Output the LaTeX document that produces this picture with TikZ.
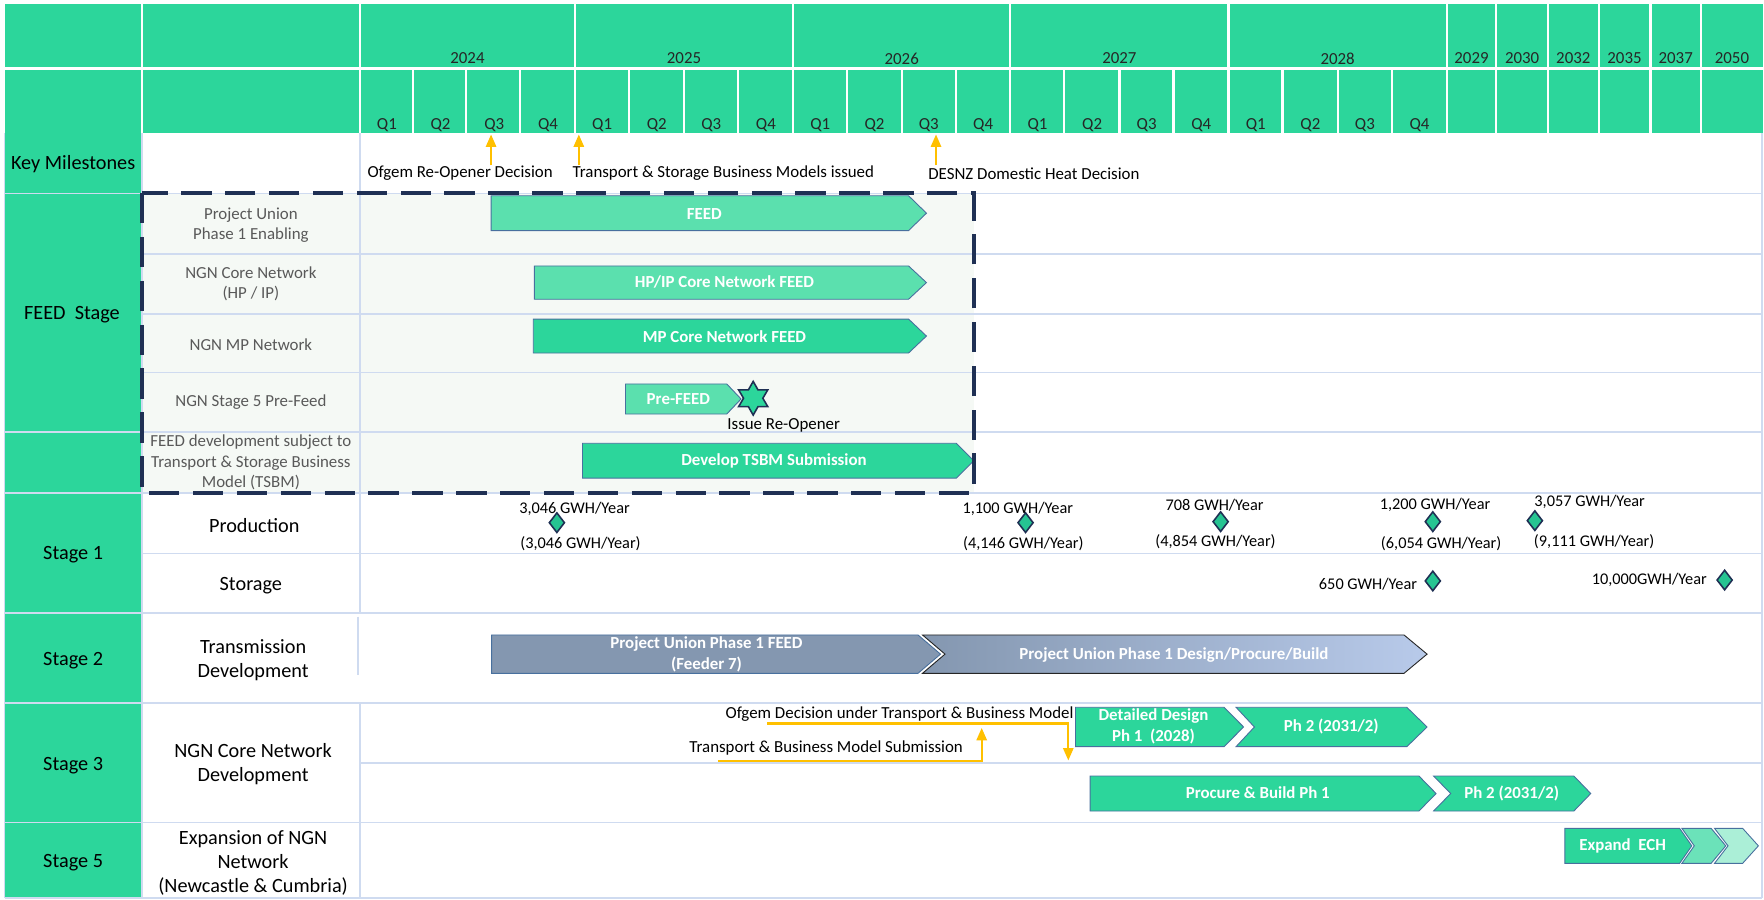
\documentclass[tikz,border=0pt]{standalone}
\usepackage{fontspec}
\setmainfont{Carlito}
\usepackage{tikz}
\usetikzlibrary{arrows.meta, shapes.geometric}
\usepackage{xcolor}
\definecolor{mint}{RGB}{44,214,155}
\definecolor{mintlight}{RGB}{91,224,174}
\definecolor{gemgreen}{RGB}{38,196,146}
\definecolor{gridblue}{RGB}{207,219,240}
\definecolor{feedbg}{RGB}{245,249,245}
\definecolor{navy}{RGB}{31,48,84}
\definecolor{amber}{RGB}{255,192,0}
\definecolor{slate}{RGB}{132,151,176}
\definecolor{slatelight}{RGB}{184,202,234}
\definecolor{greytext}{RGB}{89,89,89}
\definecolor{barline}{RGB}{72,112,158}

% timeline bar: style, left, body end, tip, top, bottom
\newcommand{\tlarrow}[6]{%
  \path[#1] (#2,#5) -- (#3,#5) -- (#4,{(#5+#6)/2}) -- (#3,#6) -- (#2,#6) -- cycle;}
% chevron bar: style, left, notch, body end, tip, top, bottom
\newcommand{\tlchevron}[7]{%
  \path[#1] (#2,#6) -- (#4,#6) -- (#5,{(#6+#7)/2}) -- (#4,#7) -- (#2,#7) -- (#3,{(#6+#7)/2}) -- cycle;}

\begin{document}
\begin{tikzpicture}[x=1pt, y=-1pt,
  hdr/.style={font=\fontsize{15}{18}\selectfont, text=black!85, inner sep=0pt},
  stagelbl/.style={font=\fontsize{18}{21.5}\selectfont, align=center, inner sep=0pt},
  feedlbl/.style={font=\fontsize{15}{18}\selectfont, text=greytext, align=center, inner sep=0pt},
  bartxt/.style={font=\fontsize{15}{18.5}\selectfont\bfseries, text=white, align=center, inner sep=0pt},
  note/.style={font=\fontsize{15}{18}\selectfont, inner sep=0pt},
  gwh/.style={font=\fontsize{14.5}{17}\selectfont, inner sep=0pt},
  gridline/.style={draw=gridblue, line width=1.5pt},
  lightbar/.style={fill=mintlight, draw=barline, line width=0.8pt},
  darkbar/.style={fill=mint, draw=barline, line width=0.8pt},
  gem/.style={diamond, draw=navy, fill=gemgreen, line width=1.4pt, inner sep=0pt,
    minimum width=14pt, minimum height=18pt},
  amberarrow/.style={draw=amber, line width=2pt, -{Triangle[width=9pt,length=11pt]}}]
  \fill[white] (0,0) rectangle (1568,800);
  \useasboundingbox (0,0) rectangle (1568,800);
  % header and stage column
  \fill[mint] (4,4) rectangle (1567,118.5);
  \fill[mint] (4,118.5) rectangle (126,798.5);
  \fill[feedbg] (126,172) rectangle (865.5,438);
  \draw[white, line width=2pt] (4,61) -- (1567,61);
  \foreach \x in {126,320,511,705,898,1092,1286,1330,1376,1421,1467,1512}
    \draw[white, line width=2pt] (\x,4) -- (\x,118.5);
  \foreach \x in {367,414,462,559,608,656,753,802,850,946,995,1043,1140,1189,1237}
    \draw[white, line width=2pt] (\x,61) -- (\x,118.5);
  \foreach \yr/\cx in {2024/415.5,2025/608,2026/801.5,2027/995,2028/1189,2029/1308,
      2030/1353,2032/1398.5,2035/1444,2037/1489.5,2050/1539.5}
    \node[hdr] (yr\yr) at (\cx,52) {\yr};
  \foreach \yx/\yw [count=\yi] in {320/191,511/194,705/193,898/194,1092/194}
    \foreach \q in {1,...,4}
      \node[hdr] (q\yi\q) at ({\yx+(\q-0.5)*\yw/4},111) {Q\q};
  % grid
  \draw[gridline] (4,118.5) -- (4,798.5) (1566,118.5) -- (1566,798.5) (126,118.5) -- (126,798.5);
  \draw[gridline] (320,118.5) -- (320,545) (320,625) -- (320,798.5) (318,548) -- (318,600);
  \foreach \y in {172,384,438,545,625,731,798.5}
    \draw[gridline] (4,\y) -- (1566,\y);
  \foreach \y in {226,279,331,492}
    \draw[gridline] (126,\y) -- (1566,\y);
  \draw[gridline] (320,678) -- (1566,678);
  % stage labels
  \node[stagelbl] (km) at (65,146) {Key Milestones};
  \node[stagelbl] (feedstage) at (64,280) {FEED~ Stage};
  \node[stagelbl] (stage1) at (65,493) {Stage 1};
  \node[stagelbl] (stage2) at (65,587) {Stage 2};
  \node[stagelbl] (stage3) at (65,681) {Stage 3};
  \node[stagelbl] (stage5) at (65,767) {Stage 5};
  \node[feedlbl] (pu) at (223,200) {Project Union\\Phase 1 Enabling};
  \node[feedlbl] (hpip) at (223,252) {NGN Core Network\\(HP / IP)};
  \node[feedlbl] (mp) at (223,306) {NGN MP Network};
  \node[feedlbl] (s5pre) at (223,357.5) {NGN Stage 5 Pre-Feed};
  \node[feedlbl] (tsbm) at (223,411) {FEED development subject to\\Transport \& Storage Business\\Model (TSBM)};
  \node[stagelbl] (prod) at (226,467) {Production};
  \node[stagelbl] (stor) at (223,521) {Storage};
  \node[stagelbl] (trans) at (225,587) {Transmission\\Development};
  \node[stagelbl] (core) at (225,679) {NGN Core Network\\Development};
  \node[stagelbl] (expn) at (225,767) {Expansion of NGN\\Network\\(Newcastle \& Cumbria)};
  % key milestones
  \node[note] (ms1) at (409,154) {Ofgem Re-Opener Decision};
  \node[note] (ms2) at (643,154) {Transport \& Storage Business Models issued};
  \node[note] (ms3) at (919,154) {DESNZ Domestic Heat Decision};
  \coordinate (ms1a) at (436.5,147); \coordinate (ms1b) at (436.5,119.5);
  \coordinate (ms2a) at (514.5,147); \coordinate (ms2b) at (514.5,119.5);
  \coordinate (ms3a) at (832,147); \coordinate (ms3b) at (832,119.5);
  \draw[amberarrow] (ms1a) -- (ms1b);
  \draw[amberarrow] (ms2a) -- (ms2b);
  \draw[amberarrow] (ms3a) -- (ms3b);
  % FEED stage bars
  \tlarrow{lightbar}{436.5}{807.6}{823.5}{174}{205}
  \node[bartxt] (feedbar) at (626,190) {FEED};
  \tlarrow{lightbar}{475}{807.6}{823.5}{236.4}{266}
  \node[bartxt] (hpipbar) at (644,251) {HP/IP Core Network FEED};
  \tlarrow{darkbar}{474}{807.6}{823.5}{283.6}{313.8}
  \node[bartxt] (mpbar) at (644,299) {MP Core Network FEED};
  \tlarrow{lightbar}{556}{646}{658.7}{341.3}{368}
  \node[bartxt] (prebar) at (603,355) {Pre-FEED};
  \node[star, star points=6, star point ratio=1.75, minimum size=30pt, inner sep=0pt,
    draw=navy, fill=mint, line width=1.4pt] (reopen) at (669.5,354) {};
  \node[note] (reopentxt) at (696.6,378) {Issue Re-Opener};
  \tlarrow{darkbar}{517.8}{850}{865.5}{394}{425}
  \node[bartxt] (tsbmbar) at (688,409.5) {Develop TSBM Submission};
  \draw[navy, line width=3.4pt, dash pattern=on 27pt off 12pt] (126,171.5) rectangle (865.5,438);
  % stage 1
  \node[gem] (p1) at (495,464.6) {};
  \node[gwh] (p1a) at (510.7,452.6) {3,046 GWH/Year};
  \node[gwh] (p1b) at (516,483.6) {(3,046 GWH/Year)};
  \node[gem] (p2) at (911.6,464.6) {};
  \node[gwh] (p2a) at (904.7,452.7) {1,100 GWH/Year};
  \node[gwh] (p2b) at (909.6,483.6) {(4,146 GWH/Year)};
  \node[gem] (p3) at (1085,463.7) {};
  \node[gwh] (p3a) at (1079.6,449) {708 GWH/Year};
  \node[gwh] (p3b) at (1080.4,481.5) {(4,854 GWH/Year)};
  \node[gem] (p4) at (1273.6,463.7) {};
  \node[gwh] (p4a) at (1275.6,449) {1,200 GWH/Year};
  \node[gwh] (p4b) at (1281,483) {(6,054 GWH/Year)};
  \node[gem] (p5) at (1364.3,462.8) {};
  \node[gwh] (p5a) at (1413,446) {3,057 GWH/Year};
  \node[gwh] (p5b) at (1417,481.5) {(9,111 GWH/Year)};
  \node[gem] (s1) at (1273.6,516.4) {};
  \node[gwh] (s1a) at (1216,519) {650 GWH/Year};
  \node[gem] (s2) at (1533,515.6) {};
  \node[gwh] (s2a) at (1466,515.6) {10,000GWH/Year};
  % stage 2
  \tlarrow{fill=slate, draw=barline, line width=0.8pt}{437}{816}{836}{564.4}{598.5}
  \node[bartxt] (feeder) at (628,582) {Project Union Phase 1 FEED\\(Feeder 7)};
  \tlchevron{left color=slate, right color=slatelight, draw=black!85, line width=0.8pt}{820}{840}{1248}{1268.5}{564.4}{598.5}
  \node[bartxt] (dpb) at (1043.5,582) {Project Union Phase 1 Design/Procure/Build};
  % stage 3
  \tlarrow{darkbar}{956}{1088}{1105.4}{628.7}{663.7}
  \node[bartxt] (dd) at (1025.3,646) {Detailed Design\\Ph 1~ (2028)};
  \tlchevron{darkbar}{1098.7}{1115}{1250.5}{1268.5}{628.7}{663.7}
  \node[bartxt] (ddph2) at (1183.4,646) {Ph 2 (2031/2)};
  \tlarrow{darkbar}{969}{1261.3}{1276.5}{689.8}{720.9}
  \node[bartxt] (pb) at (1118,705) {Procure \& Build Ph 1};
  \tlchevron{darkbar}{1274.3}{1289.5}{1399}{1414}{689.8}{720.9}
  \node[bartxt] (pbph2) at (1343.7,705) {Ph 2 (2031/2)};
  \node[note] (ofgemdec) at (799.6,634.7) {Ofgem Decision under Transport \& Business Model};
  \node[note] (tbmsub) at (734.4,665.2) {Transport \& Business Model Submission};
  \coordinate (dec0) at (682,643); \coordinate (dec1) at (949.6,643); \coordinate (dec2) at (949.6,676);
  \coordinate (sub0) at (638.5,676.5); \coordinate (sub1) at (872.6,676.5); \coordinate (sub2) at (872.6,647);
  \draw[amberarrow] (dec0) -- (dec1) -- (dec2);
  \draw[amberarrow] (sub0) -- (sub1) -- (sub2);
  % stage 5
  \tlarrow{darkbar}{1391}{1493}{1503.8}{736.3}{767.4}
  \node[bartxt] (ech) at (1442.3,751.7) {Expand~ ECH};
  \tlchevron{fill=mint!70!white, draw=barline, line width=0.8pt}{1495}{1506}{1521}{1534}{736.3}{767.4}
  \tlchevron{fill=mint!40!white, draw=barline, line width=0.8pt}{1524}{1536}{1549}{1563}{736.3}{767.4}
\end{tikzpicture}
\end{document}
